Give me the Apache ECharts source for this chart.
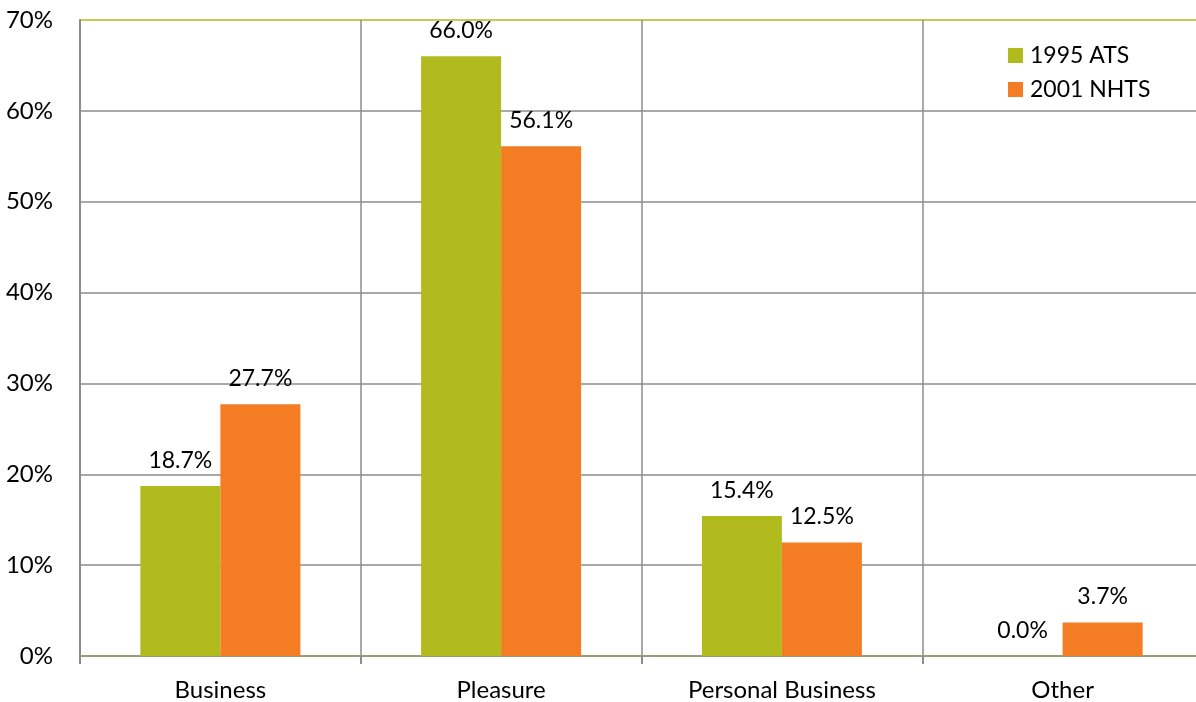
<!DOCTYPE html>
<html>
<head>
<meta charset="utf-8">
<script src="https://cdn.jsdelivr.net/npm/echarts@6/dist/echarts.min.js"></script>
<style>
html, body { margin: 0; padding: 0; background: #ffffff; }
#chart { width: 1196px; height: 702px; }
</style>
</head>
<body>
<div id="chart"></div>
<script>
// Trip purpose shares by survey
const categories = ['Business', 'Pleasure', 'Personal Business', 'Other'];
const seriesNames = ['1995 ATS', '2001 NHTS'];
const ats1995 = [18.7, 66.0, 15.4, 0.0];
const nhts2001 = [27.7, 56.1, 12.5, 3.7];
const seriesColors = ['#B2BB1E', '#F47D23'];

const FONT = 'Lato, "Open Sans", sans-serif';
const chart = echarts.init(document.getElementById('chart'));

// grey horizontal gridlines, with the top (70%) line in green
const gridColors = ['#8c8c8c', '#8c8c8c', '#8c8c8c', '#8c8c8c', '#8c8c8c', '#8c8c8c', '#8c8c8c', '#B2BB1E'];

const labelCfg = {
  show: true,
  position: 'top',
  distance: 14,
  color: '#000',
  fontFamily: FONT,
  fontSize: 23,
  formatter: p => p.value.toFixed(1) + '%'
};

chart.setOption({
  animation: false,
  // the plot runs slightly past the right edge of the canvas
  grid: { left: 80, top: 20, width: 1123, height: 636, outerBoundsMode: 'none', containLabel: false },
  legend: {
    orient: 'vertical',
    left: 1003,
    top: 39,
    itemWidth: 15,
    itemHeight: 15,
    itemGap: 11,
    icon: 'rect',
    textStyle: { fontFamily: FONT, fontSize: 23, color: '#000', padding: [0, 0, 0, 2] },
    data: seriesNames
  },
  xAxis: {
    type: 'category',
    data: categories,
    axisLine: { show: true, lineStyle: { color: '#9c9c78', width: 2 } },
    axisTick: { show: true, length: 8, lineStyle: { color: '#8c8c8c', width: 2 } },
    splitLine: { show: true, lineStyle: { color: '#8c8c8c', width: 1.5 } },
    axisLabel: { color: '#000', fontFamily: FONT, fontSize: 24, margin: 22 }
  },
  yAxis: {
    type: 'value',
    min: 0,
    max: 70,
    interval: 10,
    axisLine: { show: true, lineStyle: { color: '#8c8c8c', width: 2 } },
    axisTick: { show: false },
    splitLine: { show: true, lineStyle: { color: gridColors, width: 1.5 } },
    axisLabel: { color: '#000', fontFamily: FONT, fontSize: 24, margin: 27, formatter: '{value}%' }
  },
  series: [
    {
      name: seriesNames[0],
      type: 'bar',
      data: ats1995,
      barGap: '0%',
      barCategoryGap: '43%',
      itemStyle: { color: seriesColors[0] },
      label: labelCfg
    },
    {
      name: seriesNames[1],
      type: 'bar',
      data: nhts2001,
      itemStyle: { color: seriesColors[1] },
      label: labelCfg
    }
  ]
});
</script>
</body>
</html>
